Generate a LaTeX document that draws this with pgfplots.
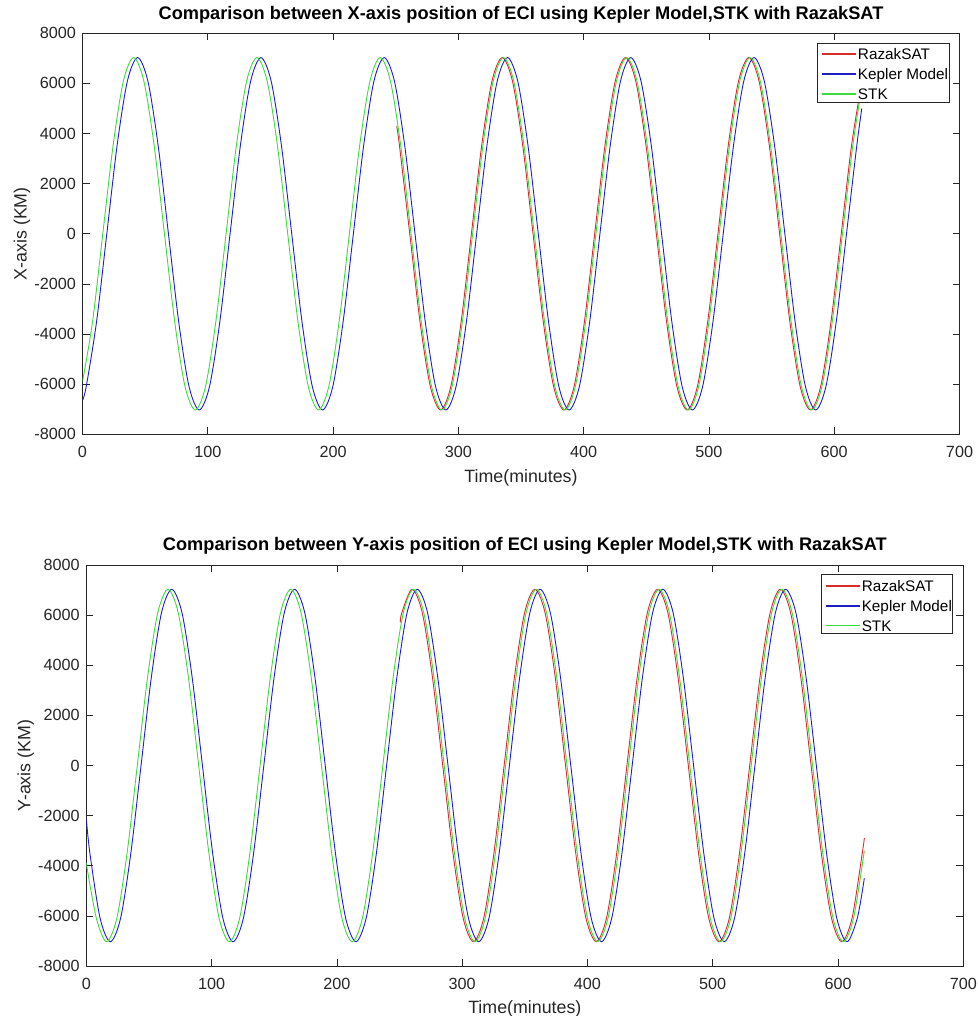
\documentclass[border=0pt]{standalone}
\usepackage{pgfplots}
\pgfplotsset{compat=1.18}
\usepackage{fontspec}
\setmainfont{Liberation Sans}

\definecolor{razak}{RGB}{215,45,40}
\definecolor{kepler}{RGB}{30,30,195}
\definecolor{stk}{RGB}{60,220,60}
\definecolor{axgray}{RGB}{38,38,38}

\pgfplotsset{
  eciaxis/.style={
    anchor=south west,
    scale only axis,
    width=877pt, height=401pt,
    xmin=0, xmax=700, ymin=-8000, ymax=8000,
    xtick={0,100,200,300,400,500,600,700},
    xticklabels={0,100,200,300,400,500,600,700},
    ytick={-8000,-6000,-4000,-2000,0,2000,4000,6000,8000},
    yticklabels={-8000,-6000,-4000,-2000,0,2000,4000,6000,8000},
    scaled ticks=false,
    /pgf/number format/assume math mode=true,
    tick align=inside,
    major tick length=7pt,
    axis line style={axgray, line width=0.6pt},
    tick style={axgray, line width=0.6pt},
    ticklabel style={font=\fontsize{16.2}{19}\selectfont, text=axgray},
    xticklabel style={anchor=base, yshift=-23.5pt},
    yticklabel style={anchor=east, inner sep=0pt, xshift=-6.5pt},
    label style={font=\fontsize{17.8}{20}\selectfont, text=axgray},
    xlabel style={at={(axis description cs:0.5,-0.119)}, anchor=base},
    ylabel style={at={(axis description cs:-0.069,0.5)}, anchor=center},
    title style={at={(axis description cs:0.5,1.02)}, anchor=base,
      font=\fontsize{18.2}{21}\selectfont\bfseries},
    every axis plot/.append style={line width=0.9pt, smooth, no markers},
  },
}
\tikzset{
  keytext/.style={anchor=west, inner sep=0pt, text height=11pt, text depth=0pt,
    font=\fontsize{15.3}{18}\selectfont, text=black},
  keyline/.style={line width=1.4pt},
}

% legend box in the top right corner, as drawn by MATLAB
\newcommand{\ecilegend}{%
  \draw[axgray, line width=0.6pt, fill=white]
    (rel axis cs:0.838,0.829) rectangle (rel axis cs:0.988,0.976);
  \draw[razak, keyline] (rel axis cs:0.843,0.948) -- (rel axis cs:0.882,0.948);
  \draw[kepler, keyline] (rel axis cs:0.843,0.898) -- (rel axis cs:0.882,0.898);
  \draw[stk, keyline] (rel axis cs:0.843,0.849) -- (rel axis cs:0.882,0.849);
  \node[keytext] at (rel axis cs:0.884,0.948) {RazakSAT};
  \node[keytext] at (rel axis cs:0.884,0.898) {Kepler Model};
  \node[keytext] at (rel axis cs:0.884,0.849) {STK};
}

\begin{document}
\begin{tikzpicture}[x=1pt,y=1pt]
\path[use as bounding box] (0,0) rectangle (977,1016);

\begin{axis}[eciaxis, at={(82.5pt,581.7pt)},
  title={Comparison between X-axis position of ECI using Kepler Model,STK with RazakSAT},
  xlabel={Time(minutes)}, ylabel={X-axis (KM)}]

% RazakSAT
\addplot[razak] coordinates {
(250.8,4300) (253.0,3515) (261.2,0) (269.4,-3515) (277.6,-6088) (285.8,-7030)
(294.0,-6088) (302.2,-3515) (310.4,0) (318.6,3515) (326.8,6088) (335.0,7030)
(343.2,6088) (351.4,3515) (359.6,0) (367.8,-3515) (376.0,-6088) (384.2,-7030)
(392.4,-6088) (400.6,-3515) (408.8,0) (417.0,3515) (425.2,6088) (433.4,7030)
(441.6,6088) (449.8,3515) (458.0,0) (466.2,-3515) (474.4,-6088) (482.6,-7030)
(490.8,-6088) (499.0,-3515) (507.2,0) (515.4,3515) (523.6,6088) (531.8,7030)
(540.0,6088) (548.2,3515) (556.4,0) (564.6,-3515) (572.8,-6088) (581.0,-7030)
(589.2,-6088) (597.4,-3515) (605.6,0) (613.8,3515) (622,6050)
};

% Kepler Model
\addplot[kepler] coordinates {
(0,-6650) (3.0,-6088) (11.2,-3515) (19.4,0) (27.6,3515) (35.8,6088)
(44.0,7030) (52.2,6088) (60.4,3515) (68.6,0) (76.8,-3515) (85.0,-6088)
(93.2,-7030) (101.4,-6088) (109.6,-3515) (117.8,0) (126.0,3515) (134.2,6088)
(142.4,7030) (150.6,6088) (158.8,3515) (167.0,0) (175.2,-3515) (183.4,-6088)
(191.6,-7030) (199.8,-6088) (208.0,-3515) (216.2,0) (224.4,3515) (232.6,6088)
(240.8,7030) (249.0,6088) (257.2,3515) (265.4,0) (273.6,-3515) (281.8,-6088)
(290.0,-7030) (298.2,-6088) (306.4,-3515) (314.6,0) (322.8,3515) (331.0,6088)
(339.2,7030) (347.4,6088) (355.6,3515) (363.8,0) (372.0,-3515) (380.2,-6088)
(388.4,-7030) (396.6,-6088) (404.8,-3515) (413.0,0) (421.2,3515) (429.4,6088)
(437.6,7030) (445.8,6088) (454.0,3515) (462.2,0) (470.4,-3515) (478.6,-6088)
(486.8,-7030) (495.0,-6088) (503.2,-3515) (511.4,0) (519.6,3515) (527.8,6088)
(536.0,7030) (544.2,6088) (552.4,3515) (560.6,0) (568.8,-3515) (577.0,-6088)
(585.2,-7030) (593.4,-6088) (601.6,-3515) (609.8,0) (618.0,3515) (622,5000)
};

% STK
\addplot[stk] coordinates {
(0,-5900) (8.0,-3515) (16.2,0) (24.4,3515) (32.6,6088)
(40.8,7030) (49.0,6088) (57.2,3515) (65.4,0) (73.6,-3515) (81.8,-6088)
(90.0,-7030) (98.2,-6088) (106.4,-3515) (114.6,0) (122.8,3515) (131.0,6088)
(139.2,7030) (147.4,6088) (155.6,3515) (163.8,0) (172.0,-3515) (180.2,-6088)
(188.4,-7030) (196.6,-6088) (204.8,-3515) (213.0,0) (221.2,3515) (229.4,6088)
(237.6,7030) (245.8,6088) (254.0,3515) (262.2,0) (270.4,-3515) (278.6,-6088)
(286.8,-7030) (295.0,-6088) (303.2,-3515) (311.4,0) (319.6,3515) (327.8,6088)
(336.0,7030) (344.2,6088) (352.4,3515) (360.6,0) (368.8,-3515) (377.0,-6088)
(385.2,-7030) (393.4,-6088) (401.6,-3515) (409.8,0) (418.0,3515) (426.2,6088)
(434.4,7030) (442.6,6088) (450.8,3515) (459.0,0) (467.2,-3515) (475.4,-6088)
(483.6,-7030) (491.8,-6088) (500.0,-3515) (508.2,0) (516.4,3515) (524.6,6088)
(532.8,7030) (541.0,6088) (549.2,3515) (557.4,0) (565.6,-3515) (573.8,-6088)
(582.0,-7030) (590.2,-6088) (598.4,-3515) (606.6,0) (614.8,3515) (622,5830)
};

\ecilegend
\end{axis}

\begin{axis}[eciaxis, at={(86.3pt,50pt)},
  title={Comparison between Y-axis position of ECI using Kepler Model,STK with RazakSAT},
  xlabel={Time(minutes)}, ylabel={Y-axis (KM)}]

% RazakSAT
\addplot[razak] coordinates {
(250.6,5700) (251.8,6088) (260.0,7030) (268.2,6088) (276.3,3515) (284.5,0)
(292.7,-3515) (300.8,-6088)
(309.0,-7030) (317.2,-6088) (325.3,-3515) (333.5,0) (341.7,3515) (349.8,6088)
(358.0,7030) (366.2,6088) (374.3,3515) (382.5,0) (390.7,-3515) (398.8,-6088)
(407.0,-7030) (415.2,-6088) (423.3,-3515) (431.5,0) (439.7,3515) (447.8,6088)
(456.0,7030) (464.2,6088) (472.3,3515) (480.5,0) (488.7,-3515) (496.8,-6088)
(505.0,-7030) (513.2,-6088) (521.3,-3515) (529.5,0) (537.7,3515) (545.8,6088)
(554.0,7030) (562.2,6088) (570.3,3515) (578.5,0) (586.7,-3515) (594.8,-6088)
(603.0,-7030) (611.2,-6088) (619.3,-3515) (621,-2900)
};

% Kepler Model
\addplot[kepler] coordinates {
(0,-2100) (2.9,-3515) (11.0,-6088)
(19.2,-7030) (27.4,-6088) (35.5,-3515) (43.7,0) (51.9,3515) (60.0,6088)
(68.2,7030) (76.4,6088) (84.5,3515) (92.7,0) (100.9,-3515) (109.0,-6088)
(117.2,-7030) (125.4,-6088) (133.5,-3515) (141.7,0) (149.9,3515) (158.0,6088)
(166.2,7030) (174.4,6088) (182.5,3515) (190.7,0) (198.9,-3515) (207.0,-6088)
(215.2,-7030) (223.4,-6088) (231.5,-3515) (239.7,0) (247.9,3515) (256.0,6088)
(264.2,7030) (272.4,6088) (280.5,3515) (288.7,0) (296.9,-3515) (305.0,-6088)
(313.2,-7030) (321.4,-6088) (329.5,-3515) (337.7,0) (345.9,3515) (354.0,6088)
(362.2,7030) (370.4,6088) (378.5,3515) (386.7,0) (394.9,-3515) (403.0,-6088)
(411.2,-7030) (419.4,-6088) (427.5,-3515) (435.7,0) (443.9,3515) (452.0,6088)
(460.2,7030) (468.4,6088) (476.5,3515) (484.7,0) (492.9,-3515) (501.0,-6088)
(509.2,-7030) (517.4,-6088) (525.5,-3515) (533.7,0) (541.9,3515) (550.0,6088)
(558.2,7030) (566.4,6088) (574.5,3515) (582.7,0) (590.9,-3515) (599.0,-6088)
(607.2,-7030) (615.4,-6088) (621,-4500)
};

% STK
\addplot[stk] coordinates {
(0,-3900) (8.0,-6088)
(16.2,-7030) (24.4,-6088) (32.5,-3515) (40.7,0) (48.9,3515) (57.0,6088)
(65.2,7030) (73.4,6088) (81.5,3515) (89.7,0) (97.9,-3515) (106.0,-6088)
(114.2,-7030) (122.4,-6088) (130.5,-3515) (138.7,0) (146.9,3515) (155.0,6088)
(163.2,7030) (171.4,6088) (179.5,3515) (187.7,0) (195.9,-3515) (204.0,-6088)
(212.2,-7030) (220.4,-6088) (228.5,-3515) (236.7,0) (244.9,3515) (253.0,6088)
(261.2,7030) (269.4,6088) (277.5,3515) (285.7,0) (293.9,-3515) (302.0,-6088)
(310.2,-7030) (318.4,-6088) (326.5,-3515) (334.7,0) (342.9,3515) (351.0,6088)
(359.2,7030) (367.4,6088) (375.5,3515) (383.7,0) (391.9,-3515) (400.0,-6088)
(408.2,-7030) (416.4,-6088) (424.5,-3515) (432.7,0) (440.9,3515) (449.0,6088)
(457.2,7030) (465.4,6088) (473.5,3515) (481.7,0) (489.9,-3515) (498.0,-6088)
(506.2,-7030) (514.4,-6088) (522.5,-3515) (530.7,0) (538.9,3515) (547.0,6088)
(555.2,7030) (563.4,6088) (571.5,3515) (579.7,0) (587.9,-3515) (596.0,-6088)
(604.2,-7030) (612.4,-6088) (621,-3400)
};

\ecilegend
\end{axis}
\end{tikzpicture}
\end{document}
